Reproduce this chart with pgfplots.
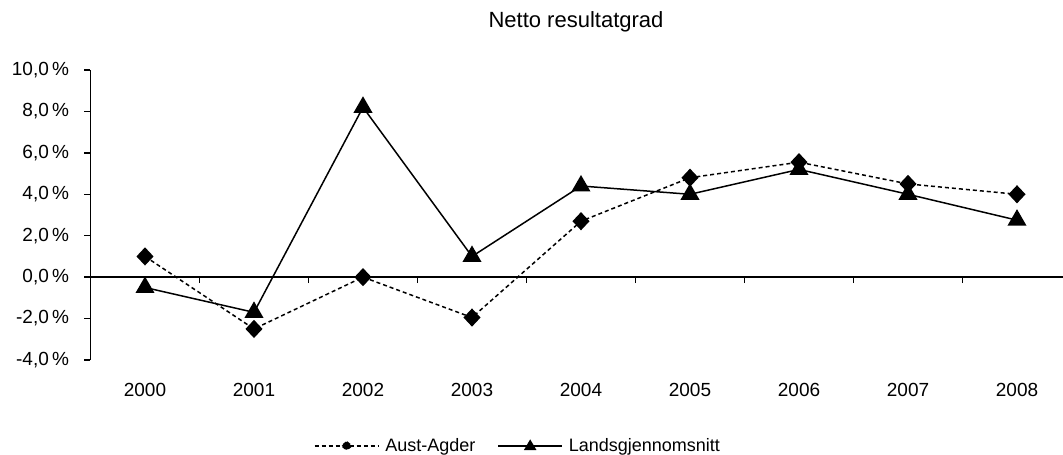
\documentclass[border=0pt]{standalone}
\usepackage{fontspec}
\setmainfont{Liberation Sans}
\usepackage{pgfplots}
\pgfplotsset{compat=1.18}

\begin{document}
\begin{tikzpicture}
% main axis: y axis on the left, x axis line at zero with boundary ticks
\begin{axis}[
    at={(0pt,0pt)}, anchor=south west,
    scale only axis, width=972.5pt, height=290pt,
    xmin=-0.5, xmax=8.422, ymin=-4, ymax=10,
    axis y line=left, axis x line=middle,
    axis line style={-, line width=1.4pt},
    tick align=outside, major tick length=6pt,
    tick style={line width=1.4pt, black},
    xtick={0.5,1.5,...,7.5}, xticklabels={},
    ytick={-4,-2,...,10},
    /pgf/number format/assume math mode=true,
    yticklabel={\pgfmathprintnumber[fixed,fixed zerofill,precision=1,use comma]{\tick}\,\%},
    yticklabel style={font=\fontsize{19}{22}\selectfont, anchor=east, xshift=-12pt},
    legend columns=2,
    legend style={at={(0.4396,-0.296)}, anchor=center, draw=none,
        font=\fontsize{18}{21}\selectfont,
        /tikz/every odd column/.append style={column sep=4pt},
        /tikz/every even column/.append style={column sep=20pt}},
    clip=false,
]
\addplot[black, line width=1.5pt, dash pattern=on 4pt off 3pt,
    mark=diamond*, mark size=8pt, mark options={solid, xscale=1.25},
    legend image code/.code={
        \draw[black, line width=1.4pt, dash pattern=on 4pt off 3pt] (0pt,0pt) -- (64pt,0pt);
        \fill[black] (32pt,4pt) -- (37pt,0pt) -- (32pt,-4pt) -- (27pt,0pt) -- cycle;}]
coordinates {
    (0, 1.0) (1, -2.5) (2, 0.0) (3, -1.95) (4, 2.7)
    (5, 4.8) (6, 5.55) (7, 4.5) (8, 4.0)
};
\addlegendentry{Aust-Agder}
\addplot[black, line width=1.5pt,
    mark=triangle*, mark size=9.5pt, mark options={solid},
    legend image code/.code={
        \draw[black, line width=1.4pt] (0pt,0pt) -- (64pt,0pt);
        \fill[black] (32pt,5pt) -- (37pt,-3.5pt) -- (27pt,-3.5pt) -- cycle;}]
coordinates {
    (0, -0.5) (1, -1.7) (2, 8.2) (3, 1.0) (4, 4.4)
    (5, 4.0) (6, 5.2) (7, 4.0) (8, 2.75)
};
\addlegendentry{Landsgjennomsnitt}
\end{axis}
% overlay axis: category labels along the bottom
\begin{axis}[
    at={(0pt,0pt)}, anchor=south west,
    scale only axis, width=972.5pt, height=290pt,
    xmin=-0.5, xmax=8.422, ymin=-4, ymax=10,
    axis y line=none, axis x line=bottom,
    x axis line style={draw=none}, ytick=\empty,
    xtick={0,...,8}, major tick length=0pt,
    xticklabels={2000,2001,2002,2003,2004,2005,2006,2007,2008},
    xticklabel style={font=\fontsize{19}{22}\selectfont, yshift=-20pt},
]
\end{axis}
\node[font=\fontsize{22}{26}\selectfont] at (485.5pt,338pt) {Netto resultatgrad};
\pgfresetboundingbox
\useasboundingbox (-90.5pt,-95pt) rectangle (972.5pt,360pt);
\end{tikzpicture}
\end{document}
